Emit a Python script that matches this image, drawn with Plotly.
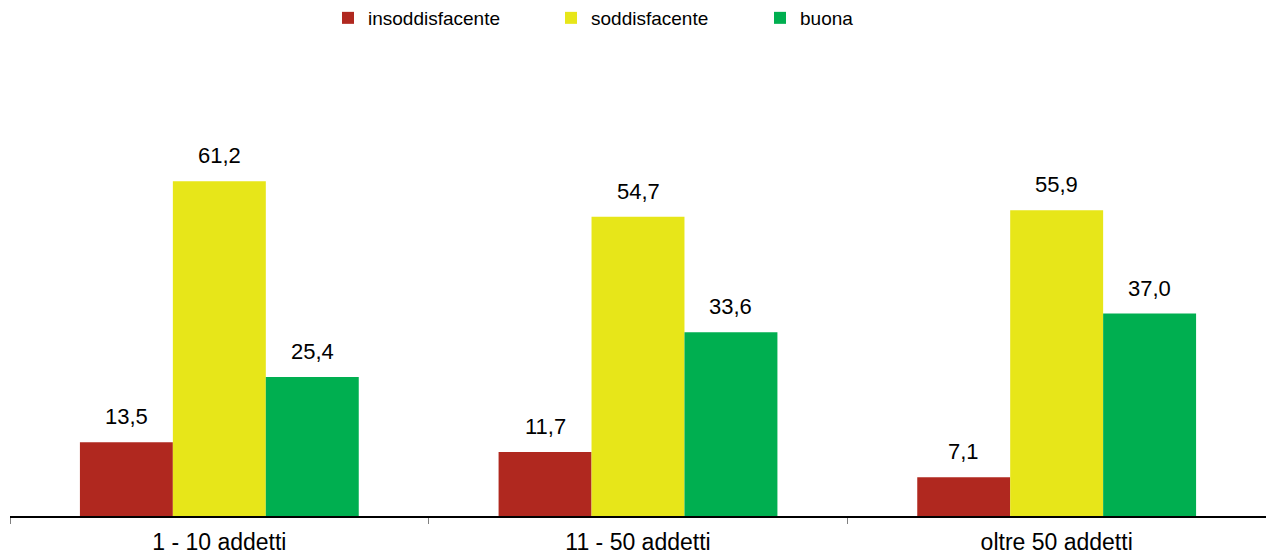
import plotly.graph_objects as go

# Company size classes and the share (%) of each rating
categories = ["1 - 10 addetti", "11 - 50 addetti", "oltre 50 addetti"]
series_names = ["insoddisfacente", "soddisfacente", "buona"]
insoddisfacente = [13.5, 11.7, 7.1]
soddisfacente = [61.2, 54.7, 55.9]
buona = [25.4, 33.6, 37.0]
series_values = [insoddisfacente, soddisfacente, buona]
colors = ["#B0281F", "#E7E619", "#00AF50"]

BARGAP = 0.334
W, H = 1266, 558
ML, MR, MT, MB = 10, 0, 40, 42
Y_MAX = 87.0
FONT = "Liberation Sans, Arial, sans-serif"

fig = go.Figure()
legend_ids = ["legend", "legend2", "legend3"]
for name, vals, col, lid in zip(series_names, series_values, colors, legend_ids):
    fig.add_trace(go.Bar(
        x=categories, y=vals, name=name,
        marker=dict(color=col, line=dict(width=0)),
        legend=lid, hoverinfo="x+y+name",
    ))

# value labels above each bar, placed at the grouped bar centres
n = len(series_values)
bar_w = (1 - BARGAP) / n
annotations = []
for j, vals in enumerate(series_values):
    for i, v in enumerate(vals):
        annotations.append(dict(
            x=i + (j - (n - 1) / 2) * bar_w, y=v, xref="x", yref="y",
            text=f"{v:.1f}".replace(".", ","), showarrow=False,
            yanchor="bottom", yshift=11,
            font=dict(family=FONT, size=22, color="#000"),
        ))

# one legend per series so each entry sits at its own position
legend_text_x = [369, 592, 801]
legend_common = dict(
    orientation="h", xref="container", yref="container",
    xanchor="left", yanchor="middle", y=1 - 18 / H,
    bgcolor="rgba(0,0,0,0)", borderwidth=0,
    font=dict(family=FONT, size=19, color="#000"),
)
legends = {}
for lid, tx in zip(legend_ids, legend_text_x):
    legends[lid] = dict(legend_common, x=(tx - 41) / W)

fig.update_layout(
    width=W, height=H,
    margin=dict(l=ML, r=MR, t=MT, b=MB),
    paper_bgcolor="white", plot_bgcolor="white",
    barmode="group", bargap=BARGAP, bargroupgap=0,
    showlegend=True,
    annotations=annotations,
    font=dict(family=FONT, color="#000"),
    xaxis=dict(
        type="category", tickson="boundaries",
        ticks="outside", ticklen=6, tickwidth=1, tickcolor="#808080",
        showline=True, linecolor="#000", linewidth=1.5,
        showgrid=False, zeroline=False,
        tickfont=dict(family=FONT, size=23, color="#000"),
        ticklabelstandoff=5,
    ),
    yaxis=dict(range=[0, Y_MAX], visible=False, showgrid=False, zeroline=False),
    **legends,
)

fig.write_html("out.html")
